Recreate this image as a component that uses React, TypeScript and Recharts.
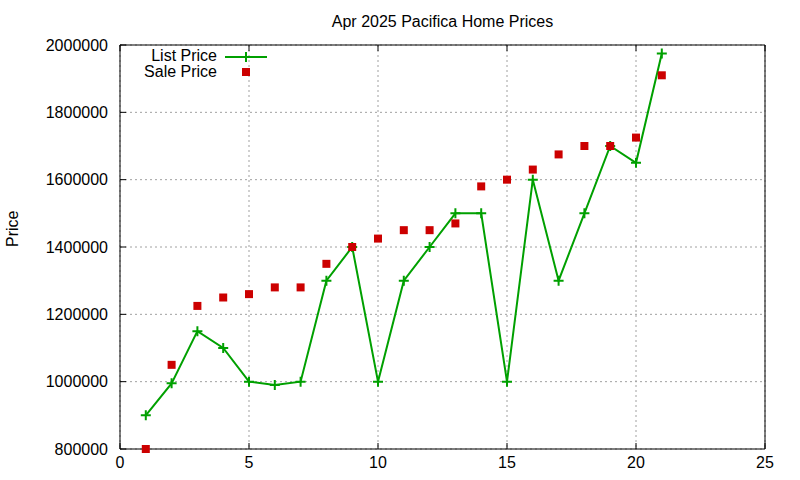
import React from "react";
import {
  ComposedChart,
  Line,
  Scatter,
  XAxis,
  YAxis,
  CartesianGrid,
  Legend,
} from "recharts";

// Listing number along the x axis
const listings = [1, 2, 3, 4, 5, 6, 7, 8, 9, 10, 11, 12, 13, 14, 15, 16, 17, 18, 19, 20, 21];

const listPrices = [
  900000, 995000, 1150000, 1100000, 1000000, 990000, 1000000, 1300000, 1400000, 1000000, 1300000,
  1400000, 1500000, 1500000, 1000000, 1600000, 1300000, 1500000, 1700000, 1650000, 1975000,
];

const salePrices = [
  800000, 1050000, 1225000, 1250000, 1260000, 1280000, 1280000, 1350000, 1400000, 1425000, 1450000,
  1450000, 1470000, 1580000, 1600000, 1630000, 1675000, 1700000, 1700000, 1725000, 1910000,
];

const xTicks = [0, 5, 10, 15, 20, 25];
const yTicks = [800000, 1000000, 1200000, 1400000, 1600000, 1800000, 2000000];

const rows = listings.map((x, i) => ({ x, list: listPrices[i], sale: salePrices[i] }));

const FONT = "'Liberation Sans', Arial, sans-serif";
const GREEN = "#00a000";
const RED = "#cc0000";

function PlusDot({ cx, cy }: { cx?: number; cy?: number }) {
  if (cx == null || cy == null) return null;
  return (
    <path
      d={`M${cx - 5},${cy}H${cx + 5}M${cx},${cy - 5}V${cy + 5}`}
      stroke={GREEN}
      strokeWidth={2}
      fill="none"
    />
  );
}

function SquareDot({ cx, cy }: { cx?: number; cy?: number }) {
  if (cx == null || cy == null) return null;
  return <rect x={cx - 4} y={cy - 4} width={8} height={8} fill={RED} />;
}

// gnuplot-style key, top left inside the plot
function KeyBox() {
  return (
    <svg width={140} height={40} style={{ display: "block" }}>
      <g fontFamily={FONT} fontSize={16} fill="#000" textAnchor="end">
        <text x={77} y={17}>List Price</text>
        <text x={77} y={33}>Sale Price</text>
      </g>
      <line x1={85} x2={127} y1={13} y2={13} stroke={GREEN} strokeWidth={2} />
      <path d="M106,8V18" stroke={GREEN} strokeWidth={2} />
      <rect x={102} y={24} width={8} height={8} fill={RED} />
    </svg>
  );
}

export default function App() {
  const tickStyle = { fill: "#000", fontFamily: FONT, fontSize: 16 };
  return (
    <div style={{ position: "absolute", left: 0, top: 0, width: 800, height: 480, background: "#fff" }}>
      <ComposedChart
        width={800}
        height={480}
        data={rows}
        margin={{ top: 44, right: 34, bottom: 1, left: 0 }}
      >
        <CartesianGrid
          stroke="#a0a0a0"
          strokeDasharray="2 3"
          horizontalValues={yTicks}
          verticalValues={xTicks}
        />
        <XAxis
          dataKey="x"
          type="number"
          domain={[0, 25]}
          ticks={xTicks}
          interval={0}
          height={30}
          stroke="#000"
          tickSize={-6}
          tickMargin={14}
          tick={tickStyle}
        />
        <XAxis
          xAxisId="top"
          orientation="top"
          dataKey="x"
          type="number"
          domain={[0, 25]}
          ticks={xTicks}
          height={1}
          stroke="#000"
          tickSize={-6}
          tickFormatter={() => ""}
          label={{ value: "Apr 2025 Pacifica Home Prices", position: "top", offset: 17, fill: "#000", fontFamily: FONT, fontSize: 16 }}
        />
        <YAxis
          type="number"
          domain={[800000, 2000000]}
          ticks={yTicks}
          interval={0}
          width={120}
          stroke="#000"
          tickSize={-6}
          tickMargin={18}
          tick={tickStyle}
          label={{ value: "Price", angle: -90, position: "insideLeft", offset: 12, fill: "#000", fontFamily: FONT, fontSize: 16 }}
        />
        <YAxis
          yAxisId="right"
          orientation="right"
          type="number"
          domain={[800000, 2000000]}
          ticks={yTicks}
          width={1}
          stroke="#000"
          tickSize={-6}
          tickFormatter={() => ""}
        />
        <Legend
          layout="vertical"
          align="center"
          verticalAlign="middle"
          content={() => <KeyBox />}
          wrapperStyle={{ position: "absolute", left: 140, top: 44, width: 140, height: 40 }}
        />
        <Line
          dataKey="list"
          name="List Price"
          stroke={GREEN}
          strokeWidth={2}
          dot={false}
          activeDot={false}
          isAnimationActive={false}
        />
        <Scatter
          dataKey="list"
          name="List markers"
          legendType="none"
          shape={<PlusDot />}
          isAnimationActive={false}
        />
        <Scatter
          dataKey="sale"
          name="Sale Price"
          fill={RED}
          shape={<SquareDot />}
          isAnimationActive={false}
        />
      </ComposedChart>
    </div>
  );
}
